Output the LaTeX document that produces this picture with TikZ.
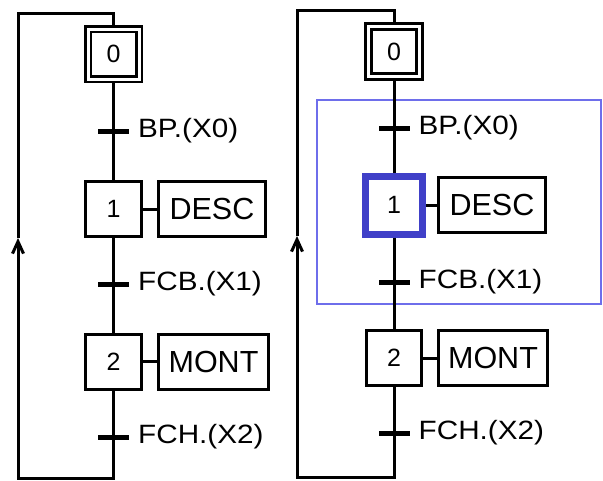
\documentclass[tikz,border=0pt]{standalone}
\usepackage{fontspec}
\setmainfont{Liberation Sans}
\newfontfamily\lblfont[FakeStretch=1.12]{Liberation Sans}
\usetikzlibrary{arrows.meta,positioning}
\definecolor{stepblue}{RGB}{64,64,200}
\definecolor{zoneblue}{RGB}{110,110,235}
\tikzset{
  stepbox/.style={draw, line width=3pt, minimum width=55.5pt, minimum height=55pt,
    inner sep=0pt, font=\fontsize{25}{28}\selectfont},
  initbox/.style={stepbox, line width=2.7pt, double, double distance=3pt, minimum width=51pt,
    minimum height=50pt, outer sep=4pt},
  actbox/.style={draw, line width=3pt, minimum height=55pt, inner sep=0pt,
    font=\fontsize{30.5}{34}\selectfont},
  trans/.style={fill, minimum width=31pt, minimum height=5pt, inner sep=0pt, outer sep=0pt},
  cond/.style={inner sep=0pt, font=\lblfont\fontsize{26.5}{30}\selectfont},
  link/.style={line width=3pt},
  upbarb/.style={-{Straight Barb[length=12pt, width=11pt]}},
}
\begin{document}
\begin{tikzpicture}[x=1pt, y=-1pt]
  \useasboundingbox (0,0) rectangle (603,480);
  \node[initbox] (l0) at (113.5,54) {0};
  \node[trans] (lt0) at (113.5,131) {};
  \node[cond, right=9pt of lt0] (lc0) {BP.(X0)};
  \node[stepbox] (l1) at (113.5,209) {1};
  \node[actbox, minimum width=107pt] (la1) at (212,209) {DESC};
  \node[trans] (lt1) at (113.5,284) {};
  \node[cond, right=9pt of lt1] (lc1) {FCB.(X1)};
  \node[stepbox] (l2) at (113.5,361.5) {2};
  \node[actbox, minimum width=110pt] (la2) at (213.5,361.5) {MONT};
  \node[trans] (lt2) at (113.5,437) {};
  \node[cond, right=9pt of lt2] (lc2) {FCH.(X2)};
  \coordinate (lb) at (18,478);
  \coordinate (lm) at (18,238);
  \coordinate (lt) at (18,13);
  \draw[link] (l0) -- (l1) -- (l2);
  \draw[link] (l1) -- (la1);
  \draw[link] (l2) -- (la2);
  \draw[link, upbarb] (l2) |- (lb) -- (lm);
  \draw[link] (lm) -- (lt) -| (l0);

  \draw[zoneblue, line width=1.3pt] (317,100) rectangle (601,304);
  \node[initbox] (r0) at (394,51.5) {0};
  \node[trans] (rt0) at (394,128) {};
  \node[cond, right=9pt of rt0] (rc0) {BP.(X0)};
  \node[stepbox, draw=stepblue, line width=7pt, minimum width=57pt, minimum height=58pt] (r1) at (394,205) {1};
  \node[actbox, minimum width=107pt] (ra1) at (492,205) {DESC};
  \node[trans] (rt1) at (394,282) {};
  \node[cond, right=9pt of rt1] (rc1) {FCB.(X1)};
  \node[stepbox] (r2) at (394,358) {2};
  \node[actbox, minimum width=109pt] (ra2) at (493,358) {MONT};
  \node[trans] (rt2) at (394,433) {};
  \node[cond, right=9pt of rt2] (rc2) {FCH.(X2)};
  \coordinate (rb) at (297,477);
  \coordinate (rm) at (297,236);
  \coordinate (rt) at (297,10);
  \draw[link] (r0) -- (r1) -- (r2);
  \draw[link] (r1) -- (ra1);
  \draw[link] (r2) -- (ra2);
  \draw[link, upbarb] (r2) |- (rb) -- (rm);
  \draw[link] (rm) -- (rt) -| (r0);
\end{tikzpicture}
\end{document}
